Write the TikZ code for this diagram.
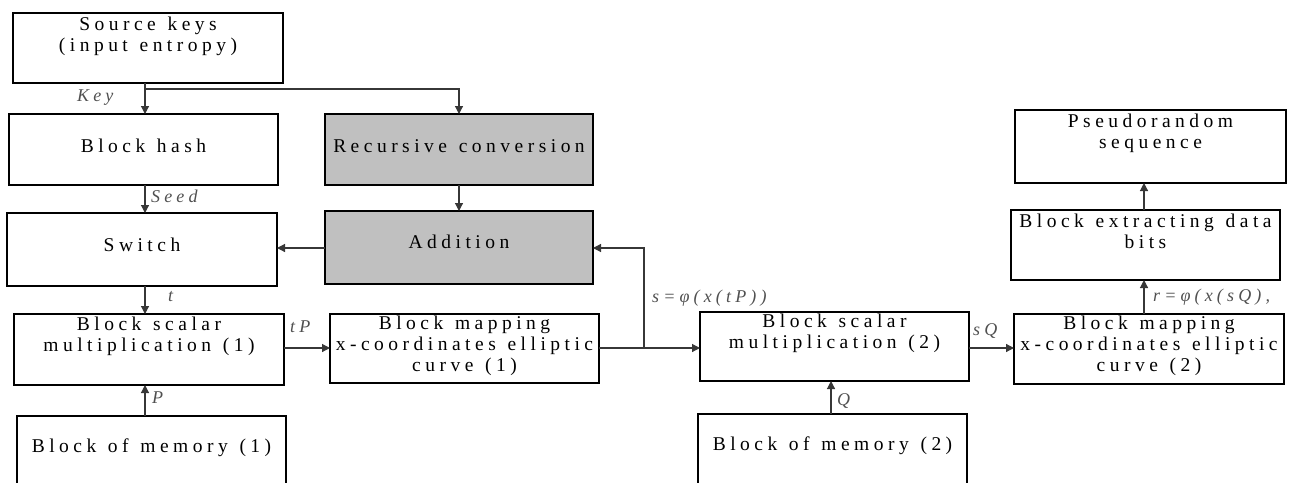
\documentclass[tikz,border=0pt]{standalone}
\usepackage{fontspec}
\setmainfont{Liberation Serif}
\usetikzlibrary{arrows.meta,calc}
\definecolor{boxgray}{RGB}{192,192,192}
\definecolor{linegray}{RGB}{55,55,55}
\definecolor{labgray}{RGB}{80,80,80}
% letter spacing through XeTeX inter-character tokens
\newcount\lscnt
\lscnt=33
\loop \XeTeXcharclass\lscnt=1 \advance\lscnt by 1 \ifnum\lscnt<127 \repeat
\XeTeXcharclass"03C6=1
\def\lsk{0.23em}
\XeTeXinterchartoks 1 1 = {\kern\lsk\relax}
\newcommand\bxt[2]{\parbox[t]{#1}{\centering\XeTeXinterchartokenstate=1 \spaceskip=0.6em\relax #2}}
\newcommand\lbl[1]{{\def\lsk{0.23em}\XeTeXinterchartokenstate=1 #1}}
\begin{document}
\begin{tikzpicture}[x=1pt,y=-1pt,
  blk/.style={draw=black, line width=1.6pt, anchor=north west, outer sep=0pt,
    inner xsep=0pt, inner ysep=0pt,
    font=\fontsize{19.5}{21}\selectfont},
  grayblk/.style={blk, fill=boxgray},
  lab/.style={font=\itshape\fontsize{18}{20}\selectfont, text=labgray,
    inner sep=0pt, anchor=base west},
  conn/.style={draw=linegray, line width=1.2pt, -{Triangle[length=8pt,width=8pt]}}]
\useasboundingbox (0,0) rectangle (1293,482);
\clip (0,0) rectangle (1293,482);
% boxes
\node[blk, text height=17pt, text depth=53pt] (src) at (13,13) {\bxt{270pt}{Source keys\\(input entropy)}};
\node[blk, text height=38pt, text depth=33pt] (hash) at (9,114) {\bxt{269pt}{Block hash}};
\node[blk, text height=38pt, text depth=35pt] (sw) at (7,213) {\bxt{270pt}{Switch}};
\node[blk, text height=16pt, text depth=55pt] (bs1) at (14,314) {\bxt{270pt}{Block scalar\\multiplication (1)}};
\node[blk, text height=36pt, text depth=44pt] (mem1) at (17,416) {\bxt{269pt}{Block of memory (1)}};
\node[grayblk, text height=38pt, text depth=33pt] (rec) at (325,114) {\bxt{268pt}{Recursive conversion}};
\node[grayblk, text height=37pt, text depth=36pt] (add) at (325,211) {\bxt{268pt}{Addition}};
\node[blk, text height=15pt, text depth=54pt] (bm1) at (330,314) {\bxt{269pt}{Block mapping\\x-coordinates elliptic\\curve (1)}};
\node[blk, text height=15pt, text depth=54pt] (bs2) at (700,312) {\bxt{269pt}{Block scalar\\multiplication (2)}};
\node[blk, text height=36pt, text depth=44pt] (mem2) at (698,414) {\bxt{269pt}{Block of memory (2)}};
\node[blk, text height=17pt, text depth=56pt] (pr) at (1015,110) {\bxt{271pt}{Pseudorandom\\sequence}};
\node[blk, text height=17pt, text depth=53pt] (ext) at (1011,210) {\bxt{269pt}{Block extracting data\\bits}};
\node[blk, text height=15pt, text depth=55pt] (bm2) at (1014,314) {\bxt{270pt}{Block mapping\\x-coordinates elliptic\\curve (2)}};
% helper coordinates
\coordinate (c1) at (145,0);
\coordinate (c3) at (831,0);
\coordinate (c4) at (1144,0);
\coordinate (kb) at (145,89);
\coordinate (ya) at (0,248);
\coordinate (yr) at (0,348);
\coordinate (sb) at (644,348);
% connectors
\draw[conn] (src.south -| c1) -- (hash.north -| c1);
\draw[conn] (kb) -| (rec.north);
\draw[conn] (hash.south -| c1) -- (sw.north -| c1);
\draw[conn] (rec.south) -- (add.north);
\draw[conn] (add.west |- ya) -- (sw.east |- ya);
\draw[conn] (sw.south -| c1) -- (bs1.north -| c1);
\draw[conn] (mem1.north -| c1) -- (bs1.south -| c1);
\draw[conn] (bs1.east |- yr) -- (bm1.west |- yr);
\draw[conn] (bm1.east |- yr) -- (bs2.west |- yr);
\draw[conn] (sb) |- (add.east |- ya);
\draw[conn] (bs2.east |- yr) -- (bm2.west |- yr);
\draw[conn] (mem2.north -| c3) -- (bs2.south -| c3);
\draw[conn] (bm2.north -| c4) -- (ext.south -| c4);
\draw[conn] (ext.north -| c4) -- (pr.south -| c4);
% labels
\node[lab] (lkey) at (77,101) {\lbl{Key}};
\node[lab] (lseed) at (151,202) {\lbl{Seed}};
\node[lab] (lt) at (168,301) {\lbl{t}};
\node[lab] (lp) at (152,403) {\lbl{P}};
\node[lab] (ltp) at (290,332) {\lbl{tP}};
\node[lab] (ls) at (652,302) {\lbl{s=φ(x(tP))}};
\node[lab] (lsq) at (973,335) {\lbl{sQ}};
\node[lab] (lq) at (837,405) {\lbl{Q}};
\node[lab] (lr) at (1153,301) {\lbl{r=φ(x(sQ),}};
\end{tikzpicture}
\end{document}
